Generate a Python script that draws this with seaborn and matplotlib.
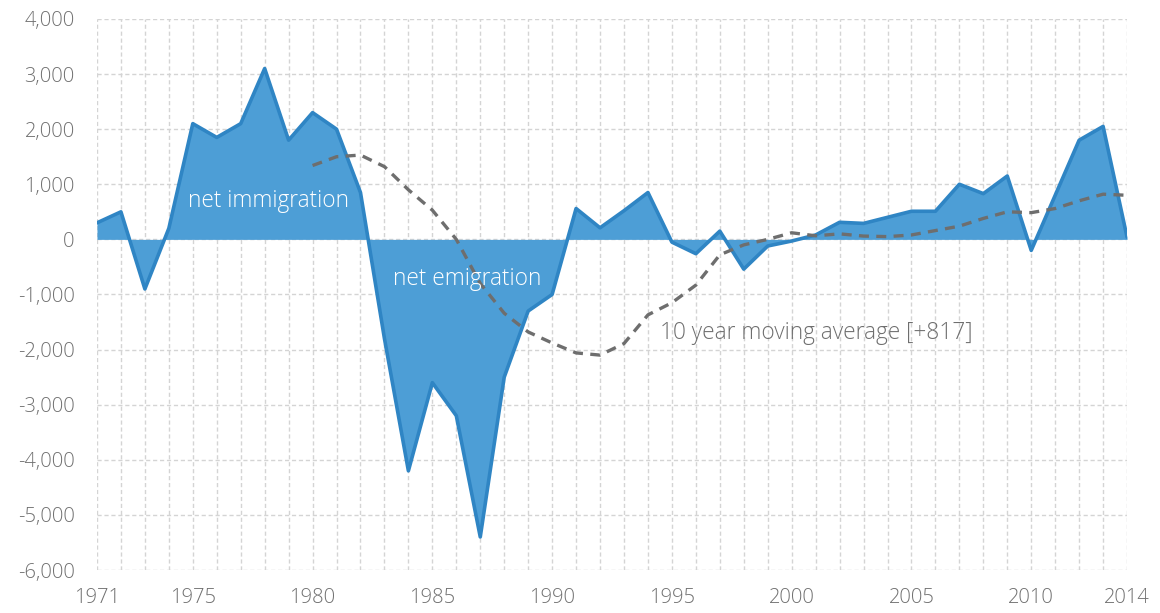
import numpy as np
import pandas as pd
import matplotlib
matplotlib.use("Agg")
import matplotlib.pyplot as plt
import seaborn as sns

years = list(range(1971, 2015))
net_migration = [300, 500, -900, 200, 2100, 1850, 2100, 3100, 1800, 2300,
                 2000, 850, -1800, -4200, -2600, -3200, -5400, -2500, -1300, -1000,
                 560, 210, 520, 850, -50, -260, 150, -540, -120, -30,
                 80, 310, 290, 400, 510, 510, 1000, 830, 1150, -200,
                 800, 1800, 2050, 40]
ma_years = list(range(1980, 2015))
moving_avg = [1340, 1500, 1530, 1320, 900, 530, 0, -800, -1340, -1680,
              -1880, -2060, -2100, -1890, -1370, -1150, -830, -280, -100, 0,
              120, 65, 100, 60, 50, 80, 160, 240, 380, 500,
              485, 560, 700, 820, 800]
xtick_labels = [1971, 1975, 1980, 1985, 1990, 1995, 2000, 2005, 2010, 2014]
ytick_values = list(range(-6000, 4001, 1000))

sns.set_theme(style="white")
plt.rcParams['font.family'] = ['Open Sans', 'DejaVu Sans']
plt.rcParams['font.weight'] = 'light'

df = pd.DataFrame({"year": years, "value": net_migration})
dma = pd.DataFrame({"year": ma_years, "ma": moving_avg})

fig = plt.figure(figsize=(11.6, 6.13), dpi=100)
ax = fig.add_axes([0.0836, 0.0701, 0.888, 0.899])

fill_col = "#4d9ed6"
edge_col = "#2f85c4"

ax.fill_between(df["year"], 0, df["value"], color=fill_col, linewidth=0, zorder=2)
sns.lineplot(data=df, x="year", y="value", ax=ax, color=edge_col, linewidth=2.6, zorder=3)
sns.lineplot(data=dma, x="year", y="ma", ax=ax, color="#6e6e6e", linewidth=2.4,
             linestyle=(0, (3, 2.2)), zorder=4)

ax.set_xlim(1971, 2014)
ax.set_ylim(-6000, 4000)
ax.set_xticks(xtick_labels)
ax.set_xticks(years, minor=True)
ax.set_yticks(ytick_values)
ax.set_yticklabels([f"{v:,}" for v in ytick_values])
ax.set_xticklabels([str(v) for v in xtick_labels])
ax.grid(True, which="major", axis="y", color="#d4d4d4", linestyle=(0, (3, 2)), linewidth=1)
ax.grid(True, which="both", axis="x", color="#d4d4d4", linestyle=(0, (3, 2)), linewidth=1)
ax.set_axisbelow(True)
for s in ax.spines.values():
    s.set_visible(False)
ax.tick_params(axis="both", which="both", length=0, labelsize=14.5, labelcolor="#707070")
ax.tick_params(axis="x", pad=13)
ax.tick_params(axis="y", pad=16)
ax.set_xlabel("")
ax.set_ylabel("")

ax.text(1978.15, 700, "net immigration", color="white", fontsize=16.3, ha="center", va="center",
        fontweight="light", zorder=5)
ax.text(1986.45, -720, "net emigration", color="white", fontsize=16.3, ha="center", va="center",
        fontweight="light", zorder=5)
ax.text(1994.5, -1700, "10 year moving average [+817]", color="#6e6e6e", fontsize=16.3,
        ha="left", va="center", fontweight="light", zorder=5)

fig.savefig("out.png", dpi=100)
